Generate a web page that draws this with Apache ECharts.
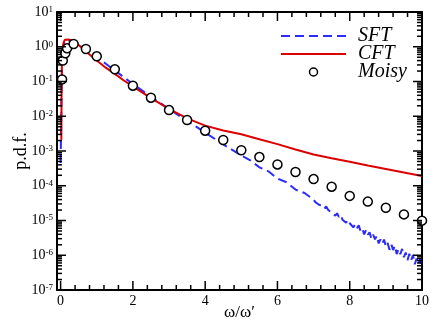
<!DOCTYPE html>
<html>
<head>
<meta charset="utf-8">
<script src="https://cdn.jsdelivr.net/npm/echarts@6/dist/echarts.min.js"></script>
<style>
  html, body { margin: 0; background: #fff; }
  #chart { width: 436px; height: 327px; }
</style>
</head>
<body>
<div id="chart"></div>
<script>
// SFT (blue dashed), noisy tail
const sftX = [0, 0.01, 0.02, 0.03, 0.05, 0.08, 0.12, 0.18, 0.25, 0.35, 0.5, 0.65, 0.8, 1.0, 1.25, 1.5, 1.75, 2.0,
  2.5, 3.0, 3.5, 4.0, 4.5, 5.0, 5.25, 5.5, 5.75, 6.0, 6.25, 6.5, 6.75,
  7.0, 7.05, 7.1, 7.15, 7.2, 7.25, 7.3, 7.35, 7.4, 7.45, 7.5, 7.55, 7.6, 7.65, 7.7, 7.75, 7.8, 7.85, 7.9, 7.95,
  8.0, 8.05, 8.1, 8.15, 8.2, 8.25, 8.3, 8.35, 8.4, 8.45, 8.5, 8.55, 8.6, 8.65, 8.7, 8.75, 8.8, 8.85, 8.9, 8.95,
  9.0, 9.05, 9.1, 9.15, 9.2, 9.25, 9.3, 9.35, 9.4, 9.45, 9.5, 9.55, 9.6, 9.65, 9.7, 9.75, 9.8, 9.85, 9.9, 9.95, 10.0];
const sftY = [4.5e-4, 2.5e-3, 1.5e-2, 0.1, 0.5, 1.1, 1.45, 1.55, 1.5, 1.3, 1.12, 0.95, 0.74, 0.50, 0.324, 0.209, 0.132, 0.0851,
  0.0363, 0.0162, 7.4e-3, 3.39e-3, 1.55e-3, 7.41e-4, 5.37e-4, 3.39e-4, 2.60e-4, 1.62e-4, 1.26e-4, 7.76e-5, 6.17e-5,
  3.98e-5, 3.37e-5, 3.59e-5, 2.83e-5, 3.16e-5, 2.62e-5, 2.21e-5, 2.53e-5, 2.04e-5, 2.23e-5, 1.68e-5, 1.83e-5, 1.38e-5, 1.61e-5, 1.27e-5, 1.45e-5, 1.05e-5, 1.14e-5, 8.61e-6, 1.05e-5,
  8.32e-6, 9.33e-6, 6.31e-6, 7.76e-6, 6.03e-6, 7.24e-6, 4.90e-6, 5.75e-6, 3.98e-6, 5.37e-6, 3.89e-6, 4.57e-6, 2.95e-6, 3.89e-6, 2.88e-6, 3.63e-6, 2.19e-6, 2.88e-6, 2.14e-6, 2.82e-6,
  1.78e-6, 2.25e-6, 1.43e-6, 2.08e-6, 1.41e-6, 1.87e-6, 1.08e-6, 1.50e-6, 1.07e-6, 1.52e-6, 8.81e-7, 1.20e-6, 7.24e-7, 1.10e-6, 7.16e-7, 1.02e-6, 5.50e-7, 7.99e-7, 5.43e-7, 7.72e-7, 4.47e-7];

// CFT (red solid)
const cftX = [0.02, 0.025, 0.035, 0.05, 0.08, 0.12, 0.17, 0.22, 0.3, 0.4, 0.5, 0.65, 0.8, 1.0, 1.25, 1.5, 1.75, 2.0,
  2.5, 3.0, 3.5, 4.0, 4.5, 5.0, 5.5, 6.0, 6.5, 7.0, 7.5, 8.0, 8.5, 9.0, 9.5, 10.0];
const cftY = [2.1e-3, 0.03, 0.3, 0.8, 1.3, 1.6, 1.67, 1.62, 1.55, 1.35, 1.12, 0.81, 0.60, 0.40, 0.25, 0.166, 0.107, 0.0724,
  0.0331, 0.0162, 8.7e-3, 5.37e-3, 3.89e-3, 3.02e-3, 2.19e-3, 1.58e-3, 1.10e-3, 7.94e-4, 6.17e-4, 4.90e-4, 3.80e-4, 3.02e-4, 2.40e-4, 1.91e-4];

// Moisy (open circles)
const moisyX = [0.04, 0.06, 0.13, 0.18, 0.36, 0.7, 1.0, 1.5, 2.0, 2.5, 3.0, 3.5, 4.0, 4.5, 5.0, 5.5, 6.0, 6.5, 7.0, 7.5, 8.0, 8.5, 9.0, 9.5, 10.0];
const moisyY = [0.115, 0.40, 0.65, 0.90, 1.2, 0.86, 0.53, 0.224, 0.0757, 0.0342, 0.0151, 7.8e-3, 3.84e-3, 2.07e-3, 1.05e-3,
  6.7e-4, 4.1e-4, 2.49e-4, 1.56e-4, 9.4e-5, 5.1e-5, 3.5e-5, 2.33e-5, 1.5e-5, 9.9e-6];

// tick values
const xMajor = [0, 2, 4, 6, 8, 10];
const xMinor = [0.4, 0.8, 1.2, 1.6, 2.4, 2.8, 3.2, 3.6, 4.4, 4.8, 5.2, 5.6, 6.4, 6.8, 7.2, 7.6, 8.4, 8.8, 9.2, 9.6];
const yMajor = [1e-7, 1e-6, 1e-5, 1e-4, 1e-3, 1e-2, 1e-1, 1, 10];
const yMinorMant = [2, 3, 4, 5, 6, 7, 8, 9];
const yMinor = [];
yMajor.slice(0, -1).forEach(d => yMinorMant.forEach(m => yMinor.push(m * d)));

const X_MIN = -0.1, X_MAX = 10, Y_MIN = 1e-7, Y_MAX = 10;
const MAJOR_LEN = 9, MINOR_LEN = 5, TICK_W = 1.5;

const serif = "'Liberation Serif', 'DejaVu Serif', serif";
const blue = '#2b2bff';
const red = '#dd0000';
const pairs = (xs, ys) => xs.map((x, i) => [x, ys[i]]);

// inward tick marks drawn as thin rect symbols sitting on the frame.
// named like a legend entry, otherwise the legend filter drops the series
function tickSeries(points, len, side) {
  const vertical = side === 'bottom' || side === 'top';
  const sign = side === 'bottom' || side === 'right' ? -1 : 1;
  return {
    name: 'Moisy',
    type: 'scatter', xAxisIndex: 0, yAxisIndex: 0,
    silent: true, clip: false, z: 6,
    symbol: 'rect',
    symbolSize: vertical ? [TICK_W, len] : [len, TICK_W],
    symbolOffset: vertical ? [0, sign * len / 2] : [sign * len / 2, 0],
    itemStyle: { color: '#000', opacity: 1 },
    data: points
  };
}

const ticks = [
  tickSeries(xMajor.map(v => [v, Y_MIN]), MAJOR_LEN, 'bottom'),
  tickSeries(xMinor.map(v => [v, Y_MIN]), MINOR_LEN, 'bottom'),
  tickSeries(xMajor.map(v => [v, Y_MAX]), MAJOR_LEN, 'top'),
  tickSeries(xMinor.map(v => [v, Y_MAX]), MINOR_LEN, 'top'),
  tickSeries(yMajor.map(v => [X_MIN, v]), MAJOR_LEN, 'left'),
  tickSeries(yMinor.map(v => [X_MIN, v]), MINOR_LEN, 'left'),
  tickSeries(yMajor.map(v => [X_MAX, v]), MAJOR_LEN, 'right'),
  tickSeries(yMinor.map(v => [X_MAX, v]), MINOR_LEN, 'right')
];

const chart = echarts.init(document.getElementById('chart'), null, { renderer: 'canvas' });

const axisLine = { show: true, onZero: false, lineStyle: { color: '#000', width: 2 } };
const xBase = { type: 'value', min: X_MIN, max: X_MAX, splitLine: { show: false }, axisTick: { show: false }, axisLine };
const yBase = { type: 'log', logBase: 10, min: Y_MIN, max: Y_MAX, interval: 1, splitLine: { show: false }, axisTick: { show: false }, axisLine };

chart.setOption({
  animation: false,
  backgroundColor: '#fff',
  grid: { left: 57, right: 14, top: 12, bottom: 37, containLabel: false, outerBoundsMode: 'none' },
  legend: {
    orient: 'vertical',
    left: 280,
    top: 26,
    padding: 0,
    selectedMode: false,
    itemWidth: 65,
    itemHeight: 8,
    itemGap: -2,
    textStyle: { fontFamily: serif, fontStyle: 'italic', fontSize: 20, lineHeight: 18, color: '#000', padding: [0, 0, 0, 7] },
    data: [
      { name: 'SFT', lineStyle: { color: blue, width: 2, type: [9, 5] }, itemStyle: { opacity: 0 } },
      { name: 'CFT', lineStyle: { color: red, width: 2 }, itemStyle: { opacity: 0 } },
      { name: 'Moisy', icon: 'circle', itemStyle: { color: '#fff', borderColor: '#000', borderWidth: 1.5, opacity: 1 } }
    ]
  },
  xAxis: [
    {
      ...xBase, position: 'bottom',
      axisLabel: { customValues: xMajor, margin: 4, fontFamily: serif, fontSize: 14, color: '#000' },
      name: 'ω/ω′', nameLocation: 'middle', nameGap: 14, nameMoveOverlap: false,
      nameTextStyle: { fontFamily: serif, fontSize: 17, color: '#000', verticalAlign: 'top' }
    },
    { ...xBase, position: 'top', axisLabel: { show: false } }
  ],
  yAxis: [
    {
      ...yBase, position: 'left',
      axisLabel: {
        margin: 4,
        formatter: v => `{b|10}{e|${Math.round(Math.log10(v))}}`,
        rich: {
          b: { fontFamily: serif, fontSize: 14, lineHeight: 14, color: '#000' },
          e: { fontFamily: serif, fontSize: 9, lineHeight: 9, padding: [0, 0, 5, 0], color: '#000' }
        }
      },
      name: 'p.d.f.', nameLocation: 'middle', nameGap: 27, nameMoveOverlap: false,
      nameTextStyle: { fontFamily: serif, fontSize: 18, color: '#000' }
    },
    { ...yBase, position: 'right', axisLabel: { show: false } }
  ],
  series: [
    {
      name: 'SFT', type: 'line', xAxisIndex: 0, yAxisIndex: 0,
      symbol: 'none', showSymbol: false,
      lineStyle: { color: blue, width: 2, type: [9, 5] },
      itemStyle: { color: blue },
      data: pairs(sftX, sftY)
    },
    {
      name: 'CFT', type: 'line', xAxisIndex: 0, yAxisIndex: 0,
      symbol: 'none', showSymbol: false,
      lineStyle: { color: red, width: 2 },
      itemStyle: { color: red },
      data: pairs(cftX, cftY)
    },
    {
      name: 'Moisy', type: 'scatter', xAxisIndex: 0, yAxisIndex: 0,
      symbol: 'circle', symbolSize: 9, clip: false,
      itemStyle: { color: '#fff', borderColor: '#000', borderWidth: 1.5, opacity: 1 },
      z: 5,
      data: pairs(moisyX, moisyY)
    },
    ...ticks
  ]
});
</script>
</body>
</html>
